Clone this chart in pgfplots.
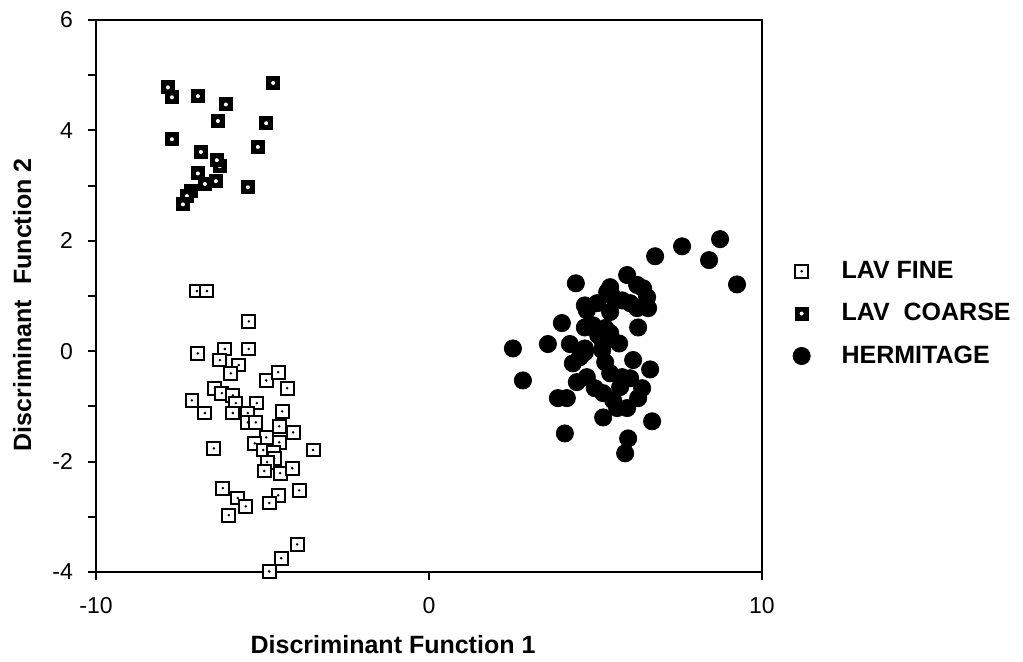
\documentclass[border=0pt]{standalone}
\usepackage{fontspec}
\setmainfont{Liberation Sans}
\usepackage{pgfplots}
\pgfplotsset{compat=1.18}

% open square with a dot in the middle
\pgfdeclareplotmark{finesq}{%
  \pgfpathrectangle{\pgfpoint{-\pgfplotmarksize}{-\pgfplotmarksize}}{\pgfpoint{2\pgfplotmarksize}{2\pgfplotmarksize}}%
  \pgfusepathqfillstroke
  \pgfscope
  \pgfpathcircle{\pgfpointorigin}{0.7pt}%
  \pgfsetfillcolor{black}\pgfusepathqfill
  \endpgfscope}
% thick square with a small hole
\pgfdeclareplotmark{coarsesq}{%
  \pgfscope
  \pgfpathrectangle{\pgfpoint{-\pgfplotmarksize}{-\pgfplotmarksize}}{\pgfpoint{2\pgfplotmarksize}{2\pgfplotmarksize}}%
  \pgfsetfillcolor{black}\pgfusepathqfill
  \pgfpathcircle{\pgfpointorigin}{1.0pt}%
  \pgfsetfillcolor{white}\pgfusepathqfill
  \endpgfscope}

\begin{document}
\begin{tikzpicture}
\begin{axis}[
  at={(0,0)}, anchor=south west,
  scale only axis,
  width=333pt, height=276pt,
  xmin=-10, xmax=10, ymin=-4, ymax=6,
  xtick={-10,0,10}, xticklabels={-10,0,10},
  ytick={-4,-2,0,2,4,6}, yticklabels={-4,-2,0,2,4,6},
  minor y tick num=1,
  tick pos=left, tick align=outside,
  major tick length=4pt, minor tick length=4pt,
  every tick/.style={black, line width=1pt},
  axis line style={line width=1.1pt},
  tick label style={font=\fontsize{11.5}{13}\selectfont},
  xticklabel style={yshift=-5pt},
  yticklabel style={xshift=-4pt},
  xlabel={\textbf{Discriminant Function 1}},
  ylabel={\textbf{Discriminant\hspace{0.6em}Function 2}},
  label style={font=\fontsize{12.5}{14}\selectfont},
  xlabel style={at={(axis description cs:0.446,-0.132)}, anchor=center},
  ylabel style={at={(axis description cs:-0.111,0.484)}, anchor=center, rotate=0},
  legend style={at={(axis description cs:1.037,0.468)}, anchor=west, draw=none, fill=none,
    font=\fontsize{12.5}{14}\selectfont\bfseries, row sep=7pt},
  legend image code/.code={\draw[#1] plot coordinates {(0pt,0pt)}; \path[draw=none] (-4pt,0pt) (18pt,0pt);},
  legend cell align=left,
]
\addplot[only marks, mark=finesq, mark size=3.2pt, mark options={draw=black, fill=white, line width=1pt}]
coordinates {
(-6.97,1.09) (-6.67,1.09) (-5.41,0.54) (-6.94,-0.04) (-6.13,0.04) (-5.41,0.04)
(-6.28,-0.16) (-5.71,-0.25) (-5.95,-0.40) (-4.89,-0.53) (-4.53,-0.38) (-4.26,-0.67)
(-6.43,-0.67) (-6.22,-0.76) (-5.89,-0.80) (-7.12,-0.89) (-5.80,-0.94) (-5.77,-1.12)
(-5.17,-0.94) (-6.73,-1.12) (-4.41,-1.09) (-5.89,-1.12) (-5.44,-1.12) (-5.44,-1.29)
(-5.20,-1.29) (-4.50,-1.36) (-4.08,-1.47) (-4.89,-1.56) (-5.23,-1.67) (-4.50,-1.65)
(-6.46,-1.76) (-3.48,-1.79) (-4.98,-1.79) (-4.68,-1.83) (-4.65,-1.94) (-4.86,-2.01)
(-4.95,-2.17) (-4.47,-2.21) (-4.11,-2.12) (-3.90,-2.52) (-6.19,-2.48) (-5.74,-2.66)
(-5.50,-2.81) (-6.01,-2.97) (-4.53,-2.61) (-4.80,-2.75) (-3.96,-3.50) (-4.44,-3.75)
(-4.80,-3.99)
};
\addlegendentry{LAV FINE}
\addplot[only marks, mark=coarsesq, mark size=3.5pt]
coordinates {
(-7.84,4.78) (-7.72,4.60) (-6.94,4.62) (-6.10,4.47) (-4.68,4.86) (-6.34,4.17)
(-4.89,4.13) (-7.72,3.84) (-5.14,3.70) (-6.85,3.61) (-6.28,3.35) (-6.37,3.46)
(-6.94,3.22) (-6.40,3.08) (-6.73,3.03) (-5.44,2.97) (-7.15,2.90) (-7.27,2.81)
(-7.39,2.66)
};
\addlegendentry{LAV\ \ COARSE}
\addplot[only marks, mark=*, mark size=4.3pt, mark options={draw=black, fill=black}]
coordinates {
(2.52,0.05) (2.82,-0.53) (3.57,0.13) (3.99,0.51) (3.87,-0.85) (4.14,-0.85)
(4.08,-1.49) (4.23,0.13) (4.41,1.23) (4.32,-0.22) (4.53,-0.11) (4.68,-0.02)
(4.68,0.05) (4.44,-0.56) (4.74,-0.47) (4.68,0.43) (4.92,0.47) (4.68,0.83)
(5.05,0.87) (4.74,0.74) (5.08,0.29) (5.23,0.14) (5.23,0.20) (5.20,0.02)
(5.29,-0.20) (5.29,0.42) (5.44,0.33) (5.44,0.71) (5.44,1.16) (5.35,1.07)
(5.53,0.98) (4.98,-0.67) (5.23,-0.76) (5.44,-0.40) (5.80,-0.47) (6.04,-0.49)
(5.74,-0.65) (5.53,-0.89) (5.65,-1.03) (5.95,-1.03) (5.23,-1.20) (5.71,0.14)
(5.80,0.92) (6.04,0.87) (6.25,0.78) (5.95,1.38) (6.25,1.20) (6.43,1.14)
(6.55,0.98) (6.58,0.78) (6.28,0.43) (6.13,-0.16) (6.64,-0.33) (6.40,-0.67)
(6.28,-0.85) (6.70,-1.27) (5.98,-1.58) (5.89,-1.85) (6.79,1.72) (7.60,1.90)
(8.74,2.03) (8.41,1.65) (9.25,1.21)
};
\addlegendentry{HERMITAGE}
\end{axis}
\pgfresetboundingbox
\path[use as bounding box] (-48pt,-44.5pt) rectangle (463.5pt,286pt);
\end{tikzpicture}
\end{document}
